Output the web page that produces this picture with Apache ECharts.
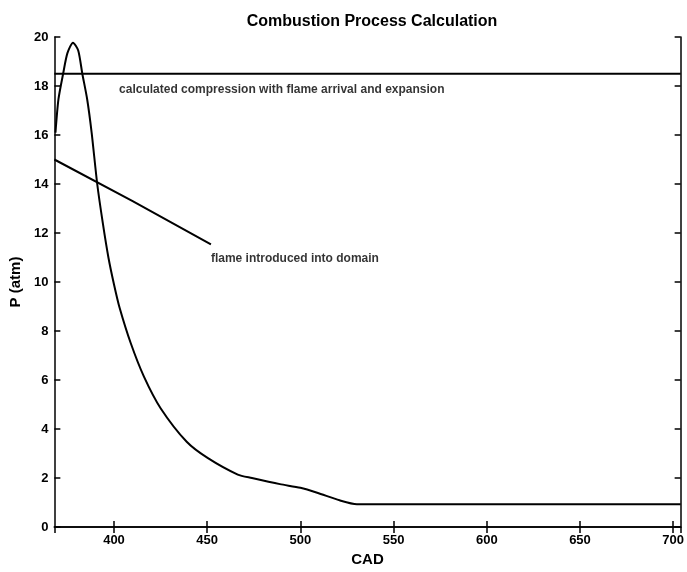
<!DOCTYPE html>
<html>
<head>
<meta charset="utf-8">
<script src="https://cdn.jsdelivr.net/npm/echarts@6/dist/echarts.min.js"></script>
<style>
html,body{margin:0;padding:0;background:#fff;}
#chart{width:687px;height:572px;}
</style>
</head>
<body>
<div id="chart"></div>
<script>
// Pressure curve (CAD, P atm)
const curveCAD = [368.6, 370.2, 372.7, 375.0, 378.0, 380.8, 383.0, 385.6, 388.0, 391.0, 394.0, 397.0, 400.0, 403.0, 409.0, 416.0, 425.0, 439.0, 450.4, 466.4, 474.0, 489.0, 500.0, 509.0, 521.0, 530.3, 550, 600, 650, 704];
const curveP   = [16.1, 17.46, 18.5, 19.34, 19.77, 19.45, 18.5, 17.46, 16.1, 14.0, 12.4, 11.0, 9.9, 8.95, 7.5, 6.15, 4.85, 3.48, 2.81, 2.14, 2.0, 1.75, 1.6, 1.4, 1.09, 0.93, 0.93, 0.93, 0.93, 0.93];
// annotation lines
const compLineCAD = [368, 704];
const compLineP = [18.5, 18.5];
const flameLineCAD = [368, 410, 452];
const flameLineP = [15.0, 13.3, 11.54];
// annotation texts
const labelTexts = ['calculated compression with flame arrival and expansion', 'flame introduced into domain'];
const labelCAD = [402.7, 452];
const labelP = [17.85, 10.97];
// axes
const xMin = 368, xMax = 704;
const yMin = 0, yMax = 20, yStep = 2;

const FONT = 'Liberation Sans, Arial, Helvetica, sans-serif';
const zip = (a, b) => a.map((v, i) => [v, b[i]]);

const axisLineStyle = {show: true, lineStyle: {color: '#000', width: 1.5}};
const tickStyle = {show: true, inside: true, length: 6, lineStyle: {color: '#000', width: 1.5}};

const chart = echarts.init(document.getElementById('chart'));
chart.setOption({
  backgroundColor: '#fff',
  animation: false,
  title: {
    text: 'Combustion Process Calculation',
    left: 367, top: 9, textAlign: 'center',
    textStyle: {fontFamily: FONT, fontSize: 16, fontWeight: 'bold', color: '#000'}
  },
  grid: {left: 52, right: 4, top: 37, bottom: 39},
  xAxis: [{
    type: 'value', min: xMin, max: xMax, splitNumber: 7,
    name: 'CAD', nameLocation: 'middle', nameGap: 25,
    nameTextStyle: {fontFamily: FONT, fontSize: 15, fontWeight: 'bold', color: '#000'},
    axisLine: axisLineStyle, axisTick: tickStyle, splitLine: {show: false},
    axisLabel: {showMinLabel: false, showMaxLabel: false, margin: 7, fontFamily: FONT, fontSize: 13, fontWeight: 'bold', color: '#000'}
  }, {
    type: 'value', position: 'top', min: xMin, max: xMax, splitNumber: 7,
    axisLine: axisLineStyle, axisTick: tickStyle, splitLine: {show: false},
    axisLabel: {show: false}
  }],
  yAxis: [{
    type: 'value', min: yMin, max: yMax, interval: yStep,
    name: 'P (atm)', nameLocation: 'middle', nameGap: 27,
    nameTextStyle: {fontFamily: FONT, fontSize: 15, fontWeight: 'bold', color: '#000'},
    axisLine: axisLineStyle, axisTick: tickStyle, splitLine: {show: false},
    axisLabel: {margin: 6, fontFamily: FONT, fontSize: 13, fontWeight: 'bold', color: '#000'}
  }, {
    type: 'value', position: 'right', min: yMin, max: yMax, interval: yStep,
    axisLine: axisLineStyle, axisTick: tickStyle, splitLine: {show: false},
    axisLabel: {show: false}
  }],
  series: [{
    type: 'line', data: zip(curveCAD, curveP), smooth: 0.25, showSymbol: false,
    lineStyle: {color: '#000', width: 2}
  }, {
    type: 'line', data: zip(compLineCAD, compLineP), showSymbol: false,
    lineStyle: {color: '#000', width: 2}
  }, {
    type: 'line', data: zip(flameLineCAD, flameLineP), showSymbol: false,
    lineStyle: {color: '#000', width: 2}
  }, {
    type: 'scatter', symbolSize: 0,
    data: labelTexts.map((t, i) => ({value: [labelCAD[i], labelP[i]], name: t})),
    label: {
      show: true, position: 'right', distance: 0,
      formatter: p => p.name,
      fontFamily: FONT, fontSize: 12, fontWeight: 'bold', color: '#000'
    }
  }]
});
</script>
</body>
</html>
